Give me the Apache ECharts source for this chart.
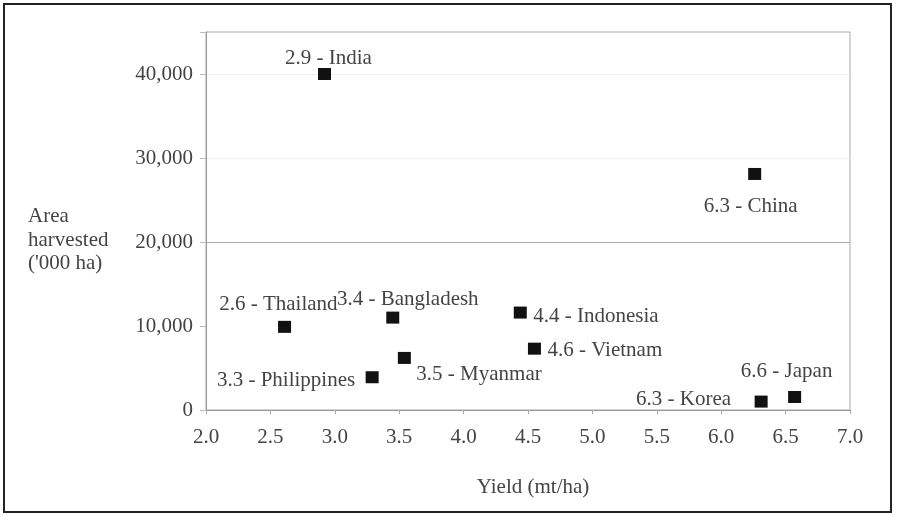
<!DOCTYPE html>
<html>
<head>
<meta charset="utf-8">
<script src="https://cdn.jsdelivr.net/npm/echarts@6/dist/echarts.min.js"></script>
<style>html,body{margin:0;padding:0;background:#fff}#c{width:897px;height:516px}</style>
</head>
<body>
<div id="c"></div>
<script>
var countries = ['India','China','Thailand','Bangladesh','Indonesia','Vietnam','Myanmar','Philippines','Korea','Japan'];
var yieldLabels = ['2.9','6.3','2.6','3.4','4.4','4.6','3.5','3.3','6.3','6.6'];
var yieldValues = [2.92, 6.26, 2.61, 3.45, 4.44, 4.55, 3.54, 3.29, 6.31, 6.57];
var areaValues = [40000, 28100, 9900, 11000, 11600, 7300, 6200, 3900, 1000, 1550];
var xTicks = ['2.0','2.5','3.0','3.5','4.0','4.5','5.0','5.5','6.0','6.5','7.0'];

var labelPlace = {
  'India':       {align: 'center', offset: [4, -16]},
  'China':       {align: 'center', offset: [-4, 33]},
  'Thailand':    {align: 'right',  offset: [53, -22]},
  'Bangladesh':  {align: 'center', offset: [15, -18]},
  'Indonesia':   {align: 'left',   offset: [13, 4]},
  'Vietnam':     {align: 'left',   offset: [13, 2]},
  'Myanmar':     {align: 'left',   offset: [12, 17]},
  'Philippines': {align: 'right',  offset: [-17, 3]},
  'Korea':       {align: 'right',  offset: [-30, -2]},
  'Japan':       {align: 'center', offset: [-8, -25]}
};

var data = countries.map(function (c, i) {
  var p = labelPlace[c];
  return {
    value: [yieldValues[i], areaValues[i]],
    name: c,
    label: {show: true, position: 'inside', align: p.align, verticalAlign: 'middle',
      offset: p.offset, formatter: yieldLabels[i] + ' - ' + c}
  };
});

var FONT = 'Liberation Serif';
var TXT = '#444';

var chart = echarts.init(document.getElementById('c'));
chart.setOption({
  animation: false,
  backgroundColor: '#fff',
  grid: {left: 206, right: 47, top: 32, bottom: 106, show: true, borderColor: '#aaa', borderWidth: 1},
  xAxis: {
    type: 'value', min: 2, max: 7, interval: 0.5,
    axisLine: {show: true, lineStyle: {color: '#999'}},
    axisTick: {show: true, length: 4, lineStyle: {color: '#aaa'}},
    splitLine: {show: false},
    axisLabel: {margin: 17, color: TXT, fontFamily: FONT, fontSize: 21,
      formatter: function (v) { return xTicks[Math.round((v - 2) / 0.5)]; }}
  },
  yAxis: {
    type: 'value', min: 0, max: 45000, interval: 10000,
    axisLine: {show: true, lineStyle: {color: '#999'}},
    axisTick: {show: true, length: 6, lineStyle: {color: '#bbb'}},
    splitLine: {show: true, lineStyle: {color: ['rgba(0,0,0,0)', 'rgba(0,0,0,0)', '#aaa', '#eee', '#eee'], width: 1}},
    axisLabel: {margin: 13, color: TXT, fontFamily: FONT, fontSize: 21,
      formatter: function (v) { return v > 40000 ? '' : v.toLocaleString('en-US'); }}
  },
  series: [{
    type: 'scatter',
    symbol: 'rect',
    symbolSize: [13, 12],
    itemStyle: {color: '#111', opacity: 1},
    label: {color: TXT, fontFamily: FONT, fontSize: 21},
    data: data
  }],
  graphic: [
    {type: 'rect', shape: {x: 4, y: 4, width: 887, height: 508}, style: {fill: 'none', stroke: '#222', lineWidth: 2}},
    {type: 'text', left: 28, top: 205, style: {text: 'Area\nharvested\n(\'000 ha)', fill: TXT, font: '21px "Liberation Serif"', lineHeight: 23.5}},
    {type: 'text', x: 533, y: 487, style: {text: 'Yield (mt/ha)', fill: TXT, font: '21px "Liberation Serif"', align: 'center', verticalAlign: 'middle'}}
  ]
});
</script>
</body>
</html>
